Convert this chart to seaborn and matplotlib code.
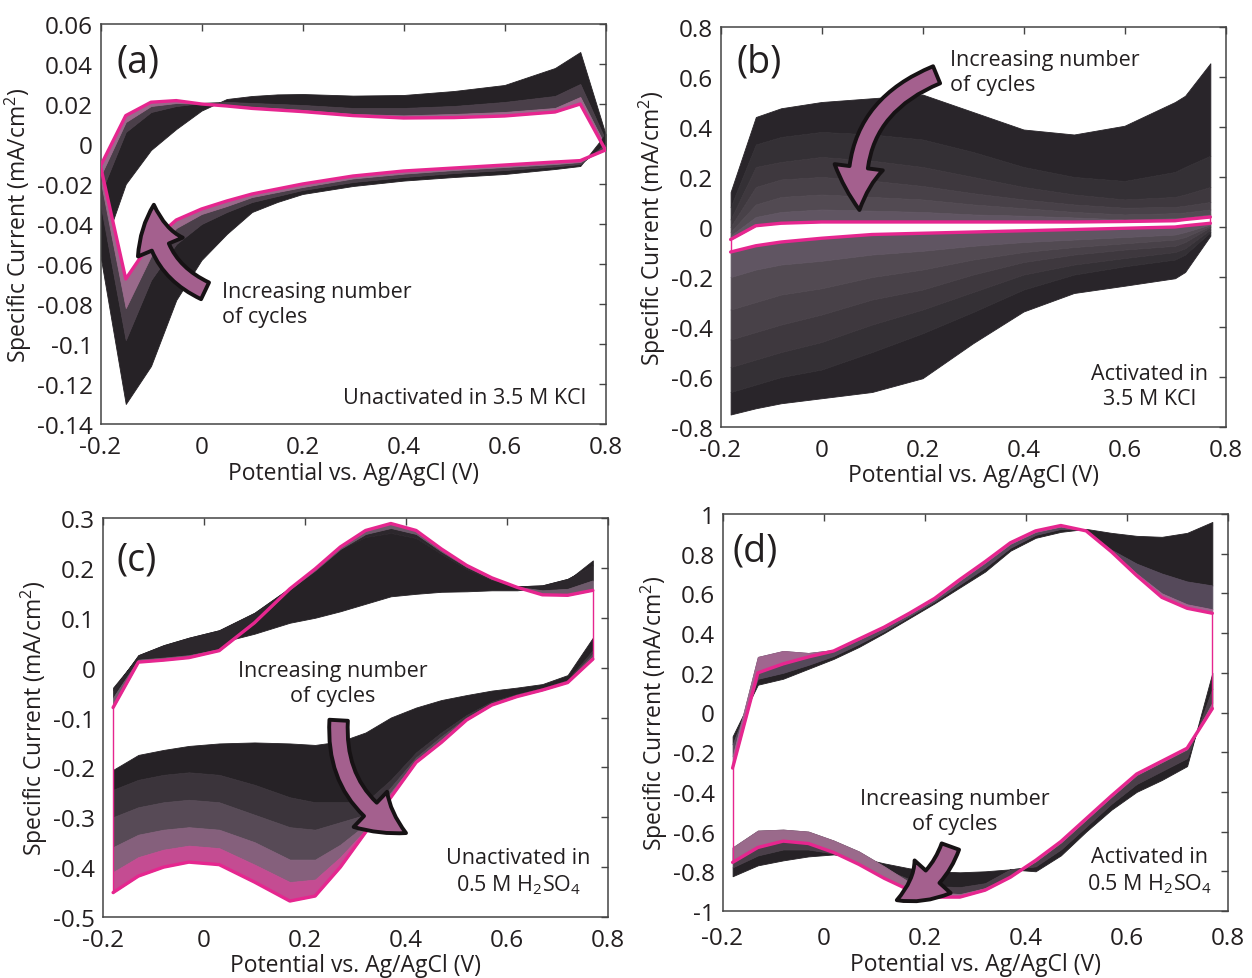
import numpy as np
import pandas as pd
import matplotlib
matplotlib.use("Agg")
import matplotlib.pyplot as plt
from matplotlib.patches import FancyArrowPatch
import seaborn as sns

# ---------------- tick values / labels ----------------
x_tick_vals = [-0.2, 0.0, 0.2, 0.4, 0.6, 0.8]
x_tick_labels = ['-0.2', '0', '0.2', '0.4', '0.6', '0.8']
a_ytick_vals = [-0.14, -0.12, -0.10, -0.08, -0.06, -0.04, -0.02, 0.0, 0.02, 0.04, 0.06]
a_ytick_labels = ['-0.14', '-0.12', '-0.1', '-0.08', '-0.06', '-0.04', '-0.02', '0', '0.02', '0.04', '0.06']
b_ytick_vals = [-0.8, -0.6, -0.4, -0.2, 0.0, 0.2, 0.4, 0.6, 0.8]
b_ytick_labels = ['-0.8', '-0.6', '-0.4', '-0.2', '0', '0.2', '0.4', '0.6', '0.8']
c_ytick_vals = [-0.5, -0.4, -0.3, -0.2, -0.1, 0.0, 0.1, 0.2, 0.3]
c_ytick_labels = ['-0.5', '-0.4', '-0.3', '-0.2', '-0.1', '0', '0.1', '0.2', '0.3']
d_ytick_vals = [-1.0, -0.8, -0.6, -0.4, -0.2, 0.0, 0.2, 0.4, 0.6, 0.8, 1.0]
d_ytick_labels = ['-1', '-0.8', '-0.6', '-0.4', '-0.2', '0', '0.2', '0.4', '0.6', '0.8', '1']

# ---------------- panel (a): unactivated, 3.5 M KCl ----------------
a_x = [-0.2, -0.15, -0.1, -0.05, 0.0, 0.05, 0.1, 0.15, 0.2, 0.3, 0.4, 0.5, 0.6, 0.7, 0.75, 0.8]
a_up_1 = [-0.056, -0.020, -0.003, 0.0075, 0.0167, 0.0225, 0.024, 0.0248, 0.025, 0.0242, 0.0245, 0.0265, 0.0295, 0.038, 0.046, 0.005]
a_up_2 = [-0.025, 0.006, 0.016, 0.019, 0.0205, 0.021, 0.0205, 0.020, 0.0195, 0.018, 0.018, 0.019, 0.021, 0.024, 0.030, 0.002]
a_up_3 = [-0.016, 0.011, 0.019, 0.0205, 0.0202, 0.0195, 0.0185, 0.0178, 0.017, 0.015, 0.0143, 0.015, 0.016, 0.018, 0.0235, -0.001]
a_up_4 = [-0.011, 0.0142, 0.0209, 0.0217, 0.020, 0.019, 0.0178, 0.017, 0.0162, 0.0142, 0.013, 0.0132, 0.014, 0.016, 0.020, -0.003]
a_dn_1 = [-0.056, -0.130, -0.111, -0.078, -0.058, -0.045, -0.034, -0.029, -0.025, -0.021, -0.0183, -0.0165, -0.015, -0.0125, -0.011, 0.005]
a_dn_2 = [-0.030, -0.098, -0.068, -0.050, -0.040, -0.034, -0.029, -0.026, -0.023, -0.019, -0.0165, -0.0145, -0.013, -0.0112, -0.010, 0.0]
a_dn_3 = [-0.018, -0.082, -0.056, -0.042, -0.035, -0.031, -0.0265, -0.024, -0.0215, -0.0172, -0.0148, -0.013, -0.0115, -0.010, -0.009, -0.002]
a_dn_4 = [-0.011, -0.0675, -0.049, -0.038, -0.0325, -0.0285, -0.025, -0.0225, -0.020, -0.016, -0.0135, -0.012, -0.0105, -0.009, -0.0083, -0.003]

# ---------------- panel (b): activated, 3.5 M KCl ----------------
b_x = [-0.18, -0.13, -0.08, 0.0, 0.1, 0.2, 0.3, 0.4, 0.5, 0.6, 0.7, 0.72, 0.77]
b_up_1 = [0.14, 0.44, 0.475, 0.50, 0.515, 0.53, 0.46, 0.39, 0.37, 0.405, 0.50, 0.525, 0.655]
b_up_2 = [0.08, 0.33, 0.36, 0.38, 0.37, 0.35, 0.30, 0.24, 0.20, 0.184, 0.22, 0.24, 0.285]
b_up_3 = [0.03, 0.24, 0.26, 0.28, 0.265, 0.24, 0.20, 0.16, 0.13, 0.11, 0.12, 0.13, 0.16]
b_up_4 = [0.0, 0.16, 0.19, 0.20, 0.185, 0.164, 0.135, 0.11, 0.09, 0.077, 0.08, 0.085, 0.10]
b_up_5 = [-0.02, 0.09, 0.12, 0.13, 0.12, 0.11, 0.09, 0.075, 0.06, 0.05, 0.055, 0.058, 0.07]
b_up_6 = [-0.035, 0.04, 0.06, 0.07, 0.065, 0.06, 0.05, 0.045, 0.038, 0.03, 0.035, 0.038, 0.05]
b_up_7 = [-0.05, 0.005, 0.015, 0.02, 0.02, 0.02, 0.02, 0.02, 0.02, 0.022, 0.025, 0.03, 0.04]
b_dn_1 = [-0.75, -0.725, -0.705, -0.685, -0.66, -0.605, -0.465, -0.338, -0.264, -0.235, -0.205, -0.18, -0.035]
b_dn_2 = [-0.66, -0.63, -0.60, -0.57, -0.50, -0.425, -0.34, -0.25, -0.19, -0.157, -0.13, -0.11, -0.02]
b_dn_3 = [-0.56, -0.53, -0.50, -0.46, -0.39, -0.33, -0.26, -0.19, -0.15, -0.124, -0.10, -0.085, -0.01]
b_dn_4 = [-0.45, -0.42, -0.39, -0.35, -0.29, -0.25, -0.19, -0.14, -0.11, -0.09, -0.075, -0.06, 0.0]
b_dn_5 = [-0.33, -0.30, -0.27, -0.245, -0.20, -0.17, -0.13, -0.10, -0.08, -0.065, -0.05, -0.04, 0.005]
b_dn_6 = [-0.20, -0.17, -0.15, -0.135, -0.11, -0.095, -0.075, -0.06, -0.05, -0.04, -0.03, -0.02, 0.01]
b_dn_7 = [-0.10, -0.075, -0.06, -0.045, -0.03, -0.025, -0.02, -0.015, -0.01, -0.005, 0.0, 0.005, 0.015]

# ---------------- panel (c): unactivated, 0.5 M H2SO4 ----------------
c_x = [-0.18, -0.13, -0.08, -0.03, 0.03, 0.1, 0.17, 0.22, 0.27, 0.32, 0.37, 0.42, 0.47, 0.52, 0.57, 0.62, 0.67, 0.72, 0.77]
c_up_1 = [-0.04, 0.022, 0.03, 0.04, 0.05, 0.068, 0.09, 0.10, 0.113, 0.128, 0.143, 0.148, 0.152, 0.153, 0.155, 0.155, 0.16, 0.175, 0.215]
c_up_2 = [-0.045, 0.025, 0.045, 0.06, 0.075, 0.11, 0.16, 0.20, 0.238, 0.262, 0.27, 0.26, 0.228, 0.198, 0.176, 0.163, 0.165, 0.178, 0.205]
c_up_3 = [-0.06, 0.016, 0.02, 0.025, 0.037, 0.09, 0.157, 0.195, 0.238, 0.268, 0.28, 0.268, 0.233, 0.202, 0.178, 0.162, 0.155, 0.158, 0.175]
c_up_4 = [-0.08, 0.011, 0.015, 0.02, 0.034, 0.09, 0.158, 0.198, 0.242, 0.275, 0.289, 0.275, 0.238, 0.205, 0.18, 0.161, 0.146, 0.145, 0.155]
c_dn_1 = [-0.205, -0.175, -0.165, -0.157, -0.152, -0.15, -0.152, -0.155, -0.148, -0.13, -0.10, -0.08, -0.065, -0.055, -0.046, -0.04, -0.033, -0.015, 0.06]
c_dn_2 = [-0.245, -0.225, -0.215, -0.21, -0.215, -0.235, -0.26, -0.27, -0.27, -0.27, -0.225, -0.17, -0.13, -0.095, -0.068, -0.053, -0.041, -0.025, 0.035]
c_dn_3 = [-0.30, -0.28, -0.27, -0.265, -0.27, -0.295, -0.32, -0.325, -0.31, -0.295, -0.24, -0.18, -0.138, -0.10, -0.071, -0.055, -0.043, -0.027, 0.028]
c_dn_4 = [-0.36, -0.335, -0.325, -0.32, -0.325, -0.35, -0.385, -0.385, -0.355, -0.315, -0.25, -0.186, -0.144, -0.102, -0.073, -0.056, -0.044, -0.028, 0.022]
c_dn_5 = [-0.41, -0.38, -0.365, -0.357, -0.362, -0.395, -0.43, -0.425, -0.38, -0.325, -0.255, -0.188, -0.147, -0.104, -0.074, -0.057, -0.045, -0.029, 0.02]
c_dn_6 = [-0.451, -0.418, -0.40, -0.39, -0.395, -0.43, -0.468, -0.458, -0.40, -0.33, -0.26, -0.19, -0.15, -0.105, -0.075, -0.058, -0.045, -0.03, 0.017]

# ---------------- panel (d): activated, 0.5 M H2SO4 ----------------
d_x = [-0.18, -0.13, -0.08, -0.03, 0.02, 0.07, 0.12, 0.17, 0.22, 0.27, 0.32, 0.37, 0.42, 0.47, 0.52, 0.57, 0.62, 0.67, 0.72, 0.77]
d_up_1 = [-0.12, 0.14, 0.17, 0.22, 0.27, 0.33, 0.40, 0.475, 0.55, 0.63, 0.71, 0.815, 0.88, 0.91, 0.925, 0.905, 0.89, 0.885, 0.905, 0.96]
d_up_2 = [-0.16, 0.17, 0.20, 0.24, 0.285, 0.345, 0.41, 0.485, 0.56, 0.645, 0.73, 0.83, 0.895, 0.925, 0.92, 0.82, 0.75, 0.70, 0.66, 0.64]
d_up_3 = [-0.22, 0.28, 0.31, 0.30, 0.315, 0.368, 0.428, 0.495, 0.57, 0.665, 0.755, 0.85, 0.91, 0.937, 0.916, 0.815, 0.70, 0.60, 0.545, 0.52]
d_up_4 = [-0.28, 0.20, 0.245, 0.28, 0.31, 0.37, 0.43, 0.50, 0.575, 0.67, 0.76, 0.855, 0.915, 0.942, 0.915, 0.81, 0.69, 0.58, 0.525, 0.50]
d_dn_1 = [-0.825, -0.77, -0.745, -0.725, -0.715, -0.73, -0.76, -0.785, -0.80, -0.805, -0.80, -0.79, -0.80, -0.72, -0.60, -0.49, -0.40, -0.34, -0.27, 0.20]
d_dn_2 = [-0.78, -0.72, -0.69, -0.69, -0.71, -0.745, -0.79, -0.84, -0.875, -0.88, -0.86, -0.79, -0.775, -0.69, -0.575, -0.46, -0.36, -0.295, -0.23, 0.12]
d_dn_3 = [-0.68, -0.595, -0.59, -0.60, -0.645, -0.70, -0.775, -0.855, -0.905, -0.915, -0.885, -0.825, -0.75, -0.655, -0.54, -0.425, -0.315, -0.25, -0.185, 0.05]
d_dn_4 = [-0.755, -0.68, -0.648, -0.66, -0.705, -0.765, -0.835, -0.895, -0.93, -0.93, -0.895, -0.83, -0.745, -0.65, -0.535, -0.42, -0.31, -0.245, -0.18, 0.02]

# ---------------- style ----------------
sns.set_style("white")
plt.rcParams['font.family'] = ['Open Sans', 'DejaVu Sans']
plt.rcParams['mathtext.fontset'] = 'custom'
plt.rcParams['mathtext.rm'] = 'Open Sans'
plt.rcParams['mathtext.it'] = 'Open Sans:italic'
plt.rcParams['mathtext.bf'] = 'Open Sans:bold'
plt.rcParams['axes.unicode_minus'] = False

PINK = '#e6268f'
DARK = '#262226'
TXT = '#231f20'
ARROW_FC = '#a4608e'

fig = plt.figure(figsize=(12.52, 9.79), dpi=100)
W, H = 1252.0, 979.0


def make_ax(l, r, t, b):
    return fig.add_axes([l / W, 1 - b / H, (r - l) / W, (b - t) / H])


def draw_bands(ax, x, curves, colors):
    for k in range(len(curves) - 1):
        ax.fill_between(x, curves[k], curves[k + 1], facecolor=colors[k],
                        edgecolor=colors[k], lw=0.6, zorder=2)


def draw_last(ax, x, up, dn):
    df_up = pd.DataFrame({'E': x, 'I': up})
    df_dn = pd.DataFrame({'E': x, 'I': dn})
    sns.lineplot(data=df_up, x='E', y='I', sort=False, estimator=None,
                 color=PINK, lw=2.4, ax=ax, zorder=4)
    sns.lineplot(data=df_dn, x='E', y='I', sort=False, estimator=None,
                 color=PINK, lw=2.4, ax=ax, zorder=4)
    ax.plot([x[0], x[0]], [up[0], dn[0]], color=PINK, lw=1.0, zorder=4)
    ax.plot([x[-1], x[-1]], [up[-1], dn[-1]], color=PINK, lw=1.0, zorder=4)


def style_ax(ax, ylim, yvals, ylabels, xpad=8):
    ax.set_xlim(-0.2, 0.8)
    ax.set_ylim(*ylim)
    ax.set_xticks(x_tick_vals)
    ax.set_xticklabels(x_tick_labels)
    ax.set_yticks(yvals)
    ax.set_yticklabels(ylabels)
    ax.tick_params(direction='in', length=5, width=1, top=True, right=True,
                   color='#444444', labelcolor=TXT, labelsize=17.5)
    ax.tick_params(axis='x', pad=xpad)
    ax.tick_params(axis='y', pad=5.5)
    for s in ax.spines.values():
        s.set_color('#444444')
        s.set_linewidth(1.1)
    ax.set_xlabel('Potential vs. Ag/AgCl (V)', fontsize=16.5, color=TXT, labelpad=1)
    ax.set_ylabel('Specific Current (mA/cm$^2$)', fontsize=16.5, color=TXT, labelpad=2)


def add_arrow(ax, tail, head, rad):
    arr = FancyArrowPatch(tail, head, connectionstyle=f'arc3,rad={rad}',
                          arrowstyle='simple,head_length=2.2,head_width=2.5,tail_width=0.95',
                          mutation_scale=14, fc=ARROW_FC, ec='#161214', lw=2.8,
                          zorder=6, transform=ax.transData)
    ax.add_patch(arr)


# ---------------- panel (a) ----------------
ax_a = make_ax(100.5, 605.5, 25, 425)
draw_bands(ax_a, a_x, [a_up_1, a_up_2, a_up_3, a_up_4], [DARK, '#4a3f49', '#9a6a8b'])
draw_bands(ax_a, a_x, [a_dn_1, a_dn_2, a_dn_3, a_dn_4], [DARK, '#4a3f49', '#9a6a8b'])
draw_last(ax_a, a_x, a_up_4, a_dn_4)
style_ax(ax_a, (-0.14, 0.06), a_ytick_vals, a_ytick_labels)
add_arrow(ax_a, (0.012, -0.074), (-0.094, -0.029), -0.35)
ax_a.text(0.031, 0.907, '(a)', transform=ax_a.transAxes, fontsize=27, color=TXT, ha='left', va='center')
ax_a.text(0.24, 0.30, 'Increasing number\nof cycles', transform=ax_a.transAxes, fontsize=15.5,
          color=TXT, ha='left', va='center', linespacing=1.25)
ax_a.text(0.961, 0.0675, 'Unactivated in 3.5 M KCl', transform=ax_a.transAxes, fontsize=15.5,
          color=TXT, ha='right', va='center')

# ---------------- panel (b) ----------------
ax_b = make_ax(720.5, 1225.5, 28, 428)
b_cols = ['#29252a', '#343035', '#3e383e', '#484148', '#524a52', '#605562']
draw_bands(ax_b, b_x, [b_up_1, b_up_2, b_up_3, b_up_4, b_up_5, b_up_6, b_up_7], b_cols)
draw_bands(ax_b, b_x, [b_dn_1, b_dn_2, b_dn_3, b_dn_4, b_dn_5, b_dn_6, b_dn_7], b_cols)
draw_last(ax_b, b_x, b_up_7, b_dn_7)
style_ax(ax_b, (-0.8, 0.8), b_ytick_vals, b_ytick_labels)
add_arrow(ax_b, (0.233, 0.613), (0.076, 0.057), 0.4)
ax_b.text(0.031, 0.915, '(b)', transform=ax_b.transAxes, fontsize=27, color=TXT, ha='left', va='center')
ax_b.text(0.454, 0.8875, 'Increasing number\nof cycles', transform=ax_b.transAxes, fontsize=15.5,
          color=TXT, ha='left', va='center', linespacing=1.25)
ax_b.text(0.85, 0.1025, 'Activated in\n3.5 M KCl', transform=ax_b.transAxes, fontsize=15.5,
          color=TXT, ha='center', va='center', linespacing=1.25)

# ---------------- panel (c) ----------------
ax_c = make_ax(103, 608, 519, 918)
draw_bands(ax_c, c_x, [c_up_1, c_up_2, c_up_3, c_up_4], [DARK, '#2c272c', '#6d5a6b'])
draw_bands(ax_c, c_x, [c_dn_1, c_dn_2, c_dn_3, c_dn_4, c_dn_5, c_dn_6],
           [DARK, '#3b343b', '#574a56', '#85607c', '#c44c92'])
draw_last(ax_c, c_x, c_up_4, c_dn_6)
style_ax(ax_c, (-0.5, 0.3), c_ytick_vals, c_ytick_labels)
add_arrow(ax_c, (0.267, -0.10), (0.405, -0.334), 0.35)
ax_c.text(0.026, 0.897, '(c)', transform=ax_c.transAxes, fontsize=27, color=TXT, ha='left', va='center')
ax_c.text(0.455, 0.586, 'Increasing number\nof cycles', transform=ax_c.transAxes, fontsize=15.5,
          color=TXT, ha='center', va='center', linespacing=1.25)
ax_c.text(0.822, 0.113, 'Unactivated in\n0.5 M H$_2$SO$_4$', transform=ax_c.transAxes, fontsize=15.5,
          color=TXT, ha='center', va='center', linespacing=1.25)

# ---------------- panel (d) ----------------
ax_d = make_ax(722.5, 1227.5, 515, 912)
draw_bands(ax_d, d_x, [d_up_1, d_up_2, d_up_3, d_up_4], [DARK, '#55495a', '#a0668f'])
draw_bands(ax_d, d_x, [d_dn_1, d_dn_2, d_dn_3, d_dn_4], [DARK, '#4a3f49', '#9a6a8b'])
draw_last(ax_d, d_x, d_up_4, d_dn_4)
style_ax(ax_d, (-1.0, 1.0), d_ytick_vals, d_ytick_labels, xpad=11)
add_arrow(ax_d, (0.253, -0.662), (0.14, -0.95), -0.25)
ax_d.text(0.019, 0.907, '(d)', transform=ax_d.transAxes, fontsize=27, color=TXT, ha='left', va='center')
ax_d.text(0.46, 0.252, 'Increasing number\nof cycles', transform=ax_d.transAxes, fontsize=15.5,
          color=TXT, ha='center', va='center', linespacing=1.25)
ax_d.text(0.845, 0.101, 'Activated in\n0.5 M H$_2$SO$_4$', transform=ax_d.transAxes, fontsize=15.5,
          color=TXT, ha='center', va='center', linespacing=1.25)

fig.savefig('out.png', dpi=100, facecolor='white')
